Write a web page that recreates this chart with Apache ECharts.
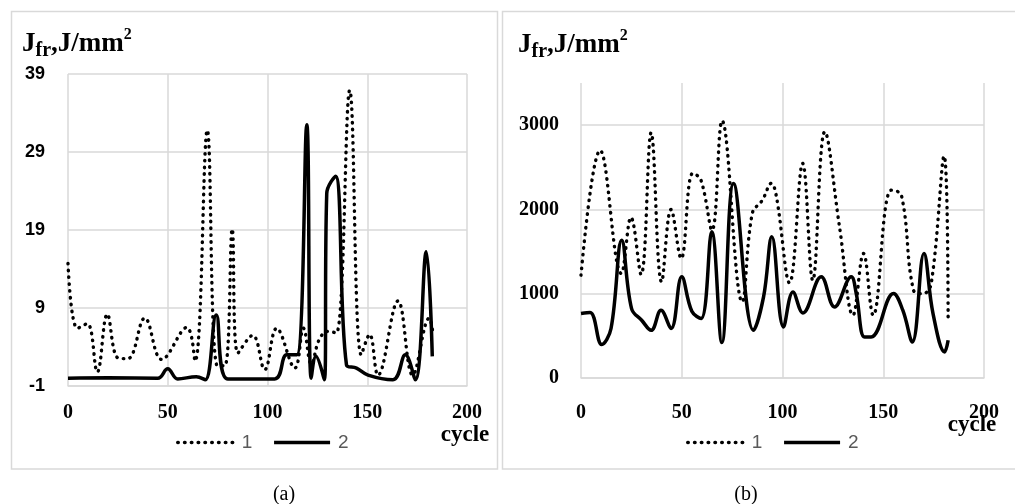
<!DOCTYPE html>
<html>
<head>
<meta charset="utf-8">
<script src="https://cdn.jsdelivr.net/npm/echarts@6/dist/echarts.min.js"></script>
<style>
  html, body { margin: 0; padding: 0; background: #fff; }
  #chart { width: 1015px; height: 504px; }
</style>
</head>
<body>
<div id="chart"></div>
<script>
// readings [cycle, J_fr] taken off the two plots
var curveA1 = [[0,14.7],[4.7,6.4],[9.7,7.0],[14.7,0.8],[19.7,8.2],[25,2.6],[30,2.5],[38.5,7.7],[47,2.4],[59.5,6.5],[63.7,2.2],[69.8,31.8],[74.5,1.7],[78.6,1.6],[82.3,19.1],[85.1,3.2],[92.6,5.5],[98.6,1.1],[104.6,6.4],[113.7,1.3],[118,6.4],[122,1.8],[126,5.0],[130.3,6.0],[134.5,5.8],[141.2,36.9],[147,3.0],[151.2,5.6],[155.4,0.4],[165.4,9.9],[172.8,0.4],[181.1,7.7],[182.8,6.0]];
var curveA2 = [[0,0],[20,0.05],[45,0],[50,1.2],[55,-0.1],[64.3,0.2],[68.8,-0.2],[74.3,8.1],[80.1,-0.1],[103.6,-0.1],[109.7,3.0],[114.7,3.0],[119.7,32.5],[121.9,0],[124.3,2.8],[128.5,-0.2],[129.7,23.7],[134.1,25.9],[139.6,1.7],[144.6,1.3],[150.4,0.4],[162.9,-0.2],[169.1,3.0],[174.1,-0.2],[179.6,16.2],[182.6,2.8]];
var curveB1 = [[0,1220],[9.5,2700],[20,1240],[24.8,1905],[29.8,1228],[34.8,2910],[40,1140],[44.7,2000],[49.7,1418],[55.5,2430],[59.5,2350],[65,1754],[70,3052],[80,903],[85,1952],[90,2110],[94.5,2310],[97,2150],[103.5,1128],[110,2546],[115,1160],[121,2922],[128.3,1793],[135,745],[140.2,1477],[145,745],[154,2229],[159,2170],[165,1042],[169.7,1000],[173.8,1120],[180.2,2633],[182.2,665]];
var curveB2 = [[0,765],[4.5,777],[10.3,397],[14.9,587],[20.2,1635],[25.1,824],[30.1,685],[34.8,566],[39.7,804],[44.7,587],[50,1200],[55,792],[59.6,705],[64.9,1734],[69.9,420],[75.7,2309],[85.6,566],[90.6,962],[94.7,1675],[100.5,606],[105.2,1021],[110.1,772],[119.2,1200],[125.8,843],[134.1,1200],[136.6,1002],[140.7,487],[144,487],[155.1,1002],[159.7,804],[164.4,428],[170.2,1477],[174.7,765],[180.5,309],[182.2,448]];

var xTicks = [0, 50, 100, 150, 200];
var yTicksA = [-1, 9, 19, 29, 39];
var yTicksB = [0, 1000, 2000, 3000];
var yTopB = 3500;
var seriesNames = ['1', '2'];
var captions = ['(a)', '(b)'];

var chart = echarts.init(document.getElementById('chart'));
var serif = 'Liberation Serif', sans = 'Liberation Sans';
var grey = '#d9d9d9';
// (a) ticks start at -1, shift so the axis min is a multiple of the step
var shiftA = -yTicksA[0];

function xAxis(gi, margin) {
    return {
        type: 'value', gridIndex: gi,
        min: xTicks[0], max: xTicks[xTicks.length - 1], interval: xTicks[1] - xTicks[0],
        axisLine: { show: true, onZero: false, lineStyle: { color: grey, width: 1.5 } },
        axisTick: { show: false },
        splitLine: { show: true, lineStyle: { color: grey, width: 1.5 } },
        axisLabel: { margin: margin, color: '#000', fontFamily: serif, fontWeight: 'bold', fontSize: 20 }
    };
}

function line(name, data, gi, dotted, shift) {
    return {
        name: name, type: 'line', xAxisIndex: gi, yAxisIndex: gi,
        data: data.map(function (p) { return [p[0], p[1] + shift]; }),
        symbol: 'none', smooth: 0.4, silent: true, color: '#000',
        itemStyle: { color: '#000' },
        lineStyle: dotted
            ? { color: '#000', width: 3.4, type: [0.5, 6.3], cap: 'round' }
            : { color: '#000', width: 3.5 }
    };
}

function legend(left) {
    return {
        data: seriesNames, left: left, top: 428, orient: 'horizontal',
        itemWidth: 56, itemHeight: 14, itemGap: 20, selectedMode: false,
        itemStyle: { opacity: 0 },
        lineStyle: { width: 3.5 },
        textStyle: { color: '#595959', fontFamily: sans, fontSize: 19, padding: [0, 0, 0, 3] }
    };
}

function title(x, y) {
    return {
        type: 'text', x: x, y: y, silent: true,
        style: {
            text: '{m|J}{s|fr}{m|,J/mm}{p|2}', align: 'left', verticalAlign: 'top',
            rich: {
                m: { fontSize: 27, fontWeight: 'bold', fontFamily: serif, lineHeight: 34, verticalAlign: 'middle', fill: '#000' },
                s: { fontSize: 20, fontWeight: 'bold', fontFamily: serif, lineHeight: 18, verticalAlign: 'bottom', fill: '#000' },
                p: { fontSize: 16, fontWeight: 'bold', fontFamily: serif, lineHeight: 31, verticalAlign: 'top', fill: '#000' }
            }
        }
    };
}

function text(str, x, y, font) {
    return {
        type: 'text', x: x, y: y, silent: true,
        style: { text: str, font: font, fill: '#000', align: 'center', verticalAlign: 'middle' }
    };
}

chart.setOption({
    animation: false,
    grid: [
        { left: 68, top: 74, width: 399, height: 312 },
        { left: 581, top: 83, width: 403, height: 295 }
    ],
    xAxis: [xAxis(0, 17), xAxis(1, 25)],
    yAxis: [
        {
            type: 'value', gridIndex: 0,
            min: yTicksA[0] + shiftA, max: yTicksA[yTicksA.length - 1] + shiftA,
            interval: yTicksA[1] - yTicksA[0],
            axisLine: { show: false }, axisTick: { show: false },
            splitLine: { show: true, lineStyle: { color: grey, width: 1.5 } },
            axisLabel: {
                margin: 23, color: '#000', fontFamily: sans, fontWeight: 'bold', fontSize: 18,
                formatter: function (v) { return String(v - shiftA); }
            }
        },
        {
            type: 'value', gridIndex: 1,
            min: yTicksB[0], max: yTopB, interval: yTicksB[1] - yTicksB[0],
            axisLine: { show: false }, axisTick: { show: false },
            splitLine: { show: true, showMaxLine: false, lineStyle: { color: grey, width: 1.5 } },
            axisLabel: {
                margin: 22, showMaxLabel: false, color: '#000', fontFamily: serif, fontWeight: 'bold', fontSize: 20,
                formatter: function (v) { return String(v); }
            }
        }
    ],
    legend: [legend(171), legend(681)],
    series: [
        line(seriesNames[0], curveA1, 0, true, shiftA),
        line(seriesNames[1], curveA2, 0, false, shiftA),
        line(seriesNames[0], curveB1, 1, true, 0),
        line(seriesNames[1], curveB2, 1, false, 0)
    ],
    graphic: [
        { type: 'rect', silent: true, shape: { x: 11.5, y: 11.5, width: 486, height: 457.5 }, style: { fill: 'none', stroke: grey, lineWidth: 1.5 } },
        { type: 'rect', silent: true, shape: { x: 502.5, y: 11.5, width: 520, height: 457.5 }, style: { fill: 'none', stroke: grey, lineWidth: 1.5 } },
        title(22, 27),
        title(518, 28),
        text('cycle', 465, 435, 'bold 23px "Liberation Serif"'),
        text('cycle', 972, 425, 'bold 23px "Liberation Serif"'),
        text(captions[0], 284, 495, '20px "Liberation Serif"'),
        text(captions[1], 746, 495, '20px "Liberation Serif"')
    ]
});
</script>
</body>
</html>
